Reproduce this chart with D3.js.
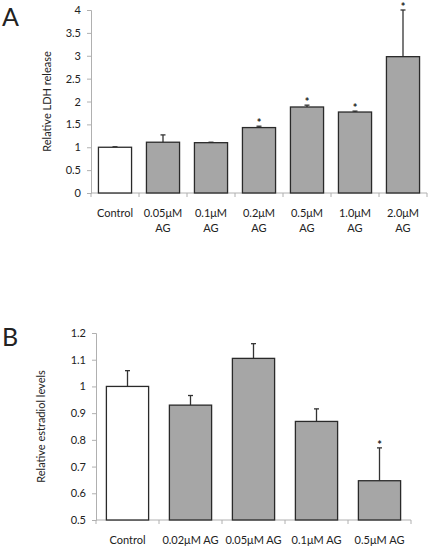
<!DOCTYPE html>
<html><head><meta charset="utf-8">
<script src="https://cdn.jsdelivr.net/npm/d3@7/dist/d3.min.js"></script>
<style>body{margin:0;background:#fff}svg{display:block}text{font-family:Lato,"Open Sans","Liberation Sans",sans-serif;fill:#222}</style>
</head><body>
<script>
// Panel A data
const catsA = ["Control","0.05μM AG","0.1μM AG","0.2μM AG","0.5μM AG","1.0μM AG","2.0μM AG"];
const valsA = [1.0, 1.11, 1.1, 1.43, 1.88, 1.77, 2.98];
const errA  = [0.01, 0.16, 0.01, 0.03, 0.04, 0.02, 1.02];
const sigA  = [false,false,false,true,true,true,true];
const ticksA = [0,0.5,1,1.5,2,2.5,3,3.5,4];
// Panel B data
const catsB = ["Control","0.02μM AG","0.05μM AG","0.1μM AG","0.5μM AG"];
const valsB = [1.0, 0.93, 1.105, 0.869, 0.647];
const errB  = [0.059, 0.036, 0.055, 0.047, 0.123];
const sigB  = [false,false,false,false,true];
const ticksB = [0.5,0.6,0.7,0.8,0.9,1.0,1.1,1.2];

const svg = d3.select("body").append("svg").attr("width",430).attr("height",551);
const axisCol = "#b0b0b0";

function panel(o){
  const g = svg.append("g");
  const x = d3.scaleBand().domain(o.cats).range([o.x0,o.x1]).paddingInner(o.pad).paddingOuter(o.pad/2);
  const y = d3.scaleLinear().domain(o.dom).range([o.y0,o.y1]);
  // y axis
  const ya = g.append("g").attr("transform",`translate(${o.x0},0)`).call(d3.axisLeft(y).tickValues(o.ticks).tickSize(4).tickPadding(6).tickFormat(o.fmt));
  ya.select(".domain").attr("stroke",axisCol);
  ya.selectAll(".tick line").attr("stroke",axisCol);
  ya.selectAll("text").style("font-size","11px").attr("fill","#222");
  // x axis line + boundary ticks
  g.append("line").attr("x1",o.x0).attr("x2",o.x1).attr("y1",o.y0).attr("y2",o.y0).attr("stroke",axisCol);
  d3.range(o.cats.length+1).forEach(i=>{
    const xx = o.x0 + i*(o.x1-o.x0)/o.cats.length;
    g.append("line").attr("x1",xx).attr("x2",xx).attr("y1",o.y0).attr("y2",o.y0+4).attr("stroke",axisCol);
  });
  // error bars
  o.vals.forEach((v,i)=>{
    const cx = x(o.cats[i])+x.bandwidth()/2;
    const et = y(v+o.err[i]);
    g.append("line").attr("x1",cx).attr("x2",cx).attr("y1",y(v)).attr("y2",et).attr("stroke","#333").attr("stroke-width",1.3);
    g.append("line").attr("x1",cx-2.5).attr("x2",cx+2.5).attr("y1",et).attr("y2",et).attr("stroke","#333").attr("stroke-width",1.3);
    if(o.sig[i]) g.append("text").attr("x",cx).attr("y",et+1).attr("text-anchor","middle").style("font-size","11px").style("font-weight","bold").text("*");
  });
  // bars
  g.selectAll("rect.bar").data(o.vals).join("rect")
    .attr("x",(d,i)=>x(o.cats[i])).attr("width",x.bandwidth())
    .attr("y",d=>y(d)).attr("height",d=>o.y0-y(d))
    .attr("fill",(d,i)=>i===0?"#ffffff":"#a6a6a6").attr("stroke","#2a2a2a").attr("stroke-width",1.3);
  // category labels
  o.cats.forEach((c,i)=>{
    const cx = x(c)+x.bandwidth()/2;
    const t = g.append("text").attr("x",cx).attr("y",o.ly).attr("text-anchor","middle").style("font-size","11px");
    const lines = o.wrap ? (c==="Control"?["Control"]:[c.replace(" AG",""),"AG"]) : [c];
    lines.forEach((l,j)=>t.append("tspan").attr("x",cx).attr("dy",j?15:0).text(l));
  });
  // y title
  g.append("text").attr("transform",`translate(${o.tx},${(o.y0+o.y1)/2}) rotate(-90)`).attr("text-anchor","middle").style("font-size","11px").text(o.title);
  // panel letter
  g.append("text").attr("x",o.lx).attr("y",o.lyL).style("font-size","25px").text(o.letter);
}

panel({cats:catsA, vals:valsA, err:errA, sig:sigA, ticks:ticksA, dom:[0,4], x0:91, x1:427, y0:193, y1:10, pad:0.31,
  fmt:d3.format(""), ly:217, wrap:true, tx:51, title:"Relative LDH release", letter:"A", lx:2, lyL:26});
panel({cats:catsB, vals:valsB, err:errB, sig:sigB, ticks:ticksB, dom:[0.5,1.2], x0:96, x1:411, y0:520, y1:333, pad:0.33,
  fmt:d3.format(""), ly:544, wrap:false, tx:45, title:"Relative estradiol levels", letter:"B", lx:2, lyL:346});
</script>
</body></html>
